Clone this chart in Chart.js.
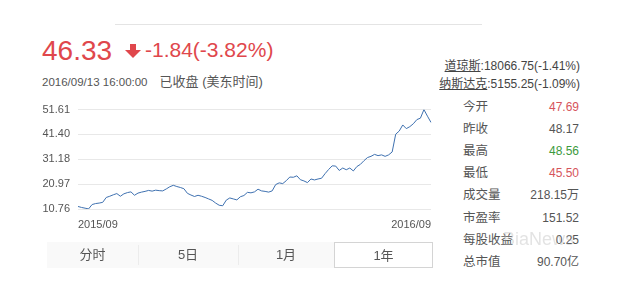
<!DOCTYPE html>
<html>
<head>
<meta charset="utf-8">
<script src="https://cdn.jsdelivr.net/npm/chart.js@4.4.8/dist/chart.umd.min.js"></script>
<style>
  body { margin: 0; width: 628px; height: 292px; background: #fff; position: relative; overflow: hidden;
         font-family: "Liberation Sans", "Noto Sans CJK SC", sans-serif; color: #555; }
  .abs { position: absolute; white-space: nowrap; }
  .cjk { font-family: "Liberation Sans", "Noto Sans CJK SC", sans-serif; }
  #topline { left: 115px; top: 24px; width: 367px; height: 1px; background: #e4e4e4; }
  #price { left: 42px; top: 35px; font-size: 28px; color: #e0474c; }
  #arrow { left: 125px; top: 44px; }
  #change { left: 145px; top: 38px; font-size: 21px; color: #e0474c; }
  #stamp { left: 42px; top: 71px; font-size: 11.5px; color: #555; }
  #stamp span { font-size: 13px; margin-left: 12px; }
  .idx { right: 48px; font-size: 12px; color: #444; }
  .idx u { text-decoration: underline; }
  .row { left: 463px; width: 116px; height: 22px; font-size: 12.5px; line-height: 22px; }
  .row .v { position: absolute; right: 0; top: 0; font-size: 12px; color: #555; }
  .row .red { color: #d6545b; }
  .row .green { color: #3d9a3d; }
  #chart { position: absolute; left: 30px; top: 95px; }
  #tabs { left: 47px; top: 242px; width: 386px; height: 26px; background: #f9f9f9; }
  .tab { position: absolute; top: 0; height: 26px; line-height: 26px; text-align: center; font-size: 13px; color: #555; }
  .sep { position: absolute; top: 3px; width: 1px; height: 20px; background: #ececec; }
  .tab.on { background: #fff; border: 1px solid #d4d4d4; box-sizing: border-box; }
  #mark { left: 503px; top: 229px; font-size: 18px; color: rgba(175,175,175,0.35); }
</style>
</head>
<body>
<div id="topline" class="abs"></div>
<div id="price" class="abs">46.33</div>
<svg id="arrow" class="abs" width="16" height="14" viewBox="0 0 16 14">
  <polygon points="5,0 11,0 11,6 16,6 8,14 0,6 5,6" fill="#e0474c"/>
</svg>
<div id="change" class="abs">-1.84(-3.82%)</div>
<div id="stamp" class="abs">2016/09/13 16:00:00<span class="cjk">已收盘 (美东时间)</span></div>

<div class="abs idx" style="top:56px"><u>道琼斯</u>:18066.75(-1.41%)</div>
<div class="abs idx" style="top:74px"><u>纳斯达克</u>:5155.25(-1.09%)</div>

<div id="stats"></div>

<canvas id="chart" width="410" height="140"></canvas>

<div id="tabs" class="abs">
  <div class="tab" style="left:0;width:91px">分时</div>
  <div class="sep" style="left:91px"></div>
  <div class="tab" style="left:91px;width:100px">5日</div>
  <div class="sep" style="left:191px"></div>
  <div class="tab" style="left:191px;width:96px">1月</div>
  <div class="tab on" style="left:287px;width:99px">1年</div>
</div>
<div id="mark" class="abs">BiaNews</div>

<script>
/*  Data  */

// daily closes, 2015/09 .. 2016/09
const closes = [
    11.8, 11.4, 11.1, 10.8, 12.6, 13.0, 13.2, 13.5, 15.5, 16.0,
    16.6, 17.1, 16.0, 17.0, 17.5, 17.8, 16.4, 17.3, 17.7, 18.0,
    18.4, 18.1, 18.5, 18.3, 18.2, 19.0, 19.9, 20.5, 20.0, 19.6,
    19.1, 17.2, 16.5, 15.9, 16.4, 16.0, 15.5, 14.9, 14.3, 13.2,
    12.3, 12.1, 14.4, 15.3, 14.9, 14.5, 15.8, 16.3, 17.6, 17.4,
    17.8, 18.9, 18.2, 18.0, 17.7, 18.2, 20.8, 21.5, 21.2, 22.4,
    23.9, 23.8, 24.4, 22.8, 22.3, 21.6, 23.1, 22.7, 23.1, 23.4,
    25.3, 27.0, 28.5, 28.4, 26.6, 27.6, 26.9, 27.6, 26.4, 28.2,
    29.1, 30.6, 31.9, 32.4, 33.2, 32.7, 33.0, 32.4, 33.0, 34.2,
    41.5, 42.8, 45.3, 43.8, 44.6, 45.8, 47.5, 48.1, 51.6, 48.9,
    46.33
];
const days = closes.map((_, i) => i);
const xTickLabels = ['2015/09', '2016/09'];
const yTicks = [10.76, 20.97, 31.18, 41.40, 51.61];

const statNames = ['今开', '昨收', '最高', '最低', '成交量', '市盈率', '每股收益', '总市值'];
const statValues = ['47.69', '48.17', '48.56', '45.50', '218.15万', '151.52', '0.25', '90.70亿'];
const statTone = ['red', '', 'green', 'red', '', '', '', ''];


/*  Stats panel  */

const stats = document.getElementById('stats');
statNames.forEach((name, i) => {
    let row = document.createElement('div');
    row.className = 'abs row cjk';
    row.style.top = (96 + i * 22.1) + 'px';
    row.innerHTML = name + '<span class="v ' + statTone[i] + '">' + statValues[i] + '</span>';
    stats.appendChild(row);
});


/*  Chart  */

const FONT = '"Liberation Sans", Arial, sans-serif';
const ctx = document.getElementById('chart').getContext('2d');

new Chart(ctx, {
    type: 'line',
    data: {
        labels: days,
        datasets: [{
            data: closes,
            borderColor: '#3f71b0',
            borderWidth: 1,
            pointRadius: 0,
            tension: 0,
            fill: false
        }]
    },
    options: {
        responsive: false,
        animation: false,
        layout: { padding: { top: 9, right: 7, left: 0, bottom: 0 } },
        plugins: {
            legend: { display: false },
            tooltip: { enabled: false }
        },
        scales: {
            x: {
                grid: { display: false, drawTicks: false },
                border: { display: false },
                ticks: {
                    autoSkip: false,
                    maxRotation: 0,
                    align: 'inner',
                    padding: 9,
                    color: '#555',
                    font: { size: 11, family: FONT },
                    callback: function(v, i) {
                        if (i === 0) return xTickLabels[0];
                        if (i === closes.length - 1) return xTickLabels[1];
                        return '';
                    }
                },
                afterFit: function(s) { s.height = 26; }
            },
            y: {
                min: yTicks[0],
                max: yTicks[yTicks.length - 1],
                grid: { color: '#e8e8e8', drawTicks: false },
                border: { display: false },
                ticks: {
                    padding: 8,
                    color: '#555',
                    font: { size: 11, family: FONT },
                    callback: v => v.toFixed(2)
                },
                afterBuildTicks: function(s) { s.ticks = yTicks.map(v => ({ value: v })); },
                afterFit: function(s) { s.width = 48; }
            }
        }
    }
});
</script>
</body>
</html>
